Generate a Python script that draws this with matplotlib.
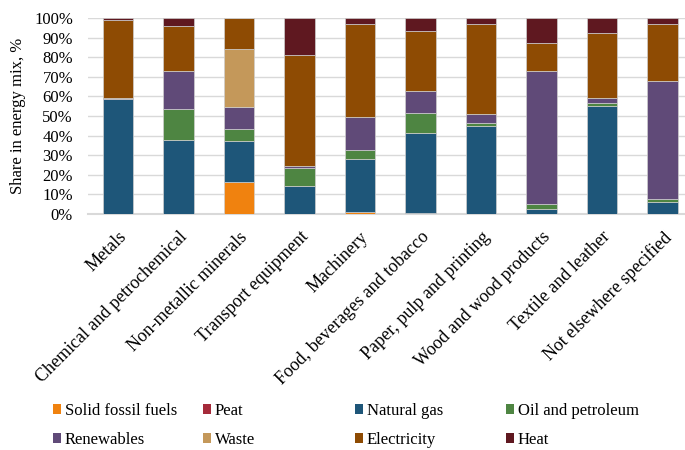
import matplotlib
matplotlib.use("Agg")
import matplotlib.pyplot as plt
from matplotlib.patches import Patch
from matplotlib.font_manager import FontProperties
from matplotlib.ticker import FuncFormatter, MultipleLocator
import numpy as np

SERIF = "Liberation Serif"
plt.rcParams["font.family"] = [SERIF, "DejaVu Serif"]

categories = [
    "Metals",
    "Chemical and petrochemical",
    "Non-metallic minerals",
    "Transport equipment",
    "Machinery",
    "Food, beverages and tobacco",
    "Paper, pulp and printing",
    "Wood and wood products",
    "Textile and leather",
    "Not elsewhere specified",
]

solid_fossil = [0, 0, 16.5, 0, 0.9, 0.5, 0, 0, 0, 0]
peat = [0, 0, 0, 0, 0, 0, 0, 0, 0, 0]
natural_gas = [58.6, 37.6, 20.6, 14.5, 27.4, 40.6, 44.8, 2.6, 55.0, 6.1]
oil_petroleum = [0, 16.2, 6.3, 9.2, 4.4, 10.2, 1.5, 2.3, 1.7, 1.4]
renewables = [0.4, 19.3, 11.3, 0.8, 16.7, 11.4, 4.5, 68.2, 2.4, 60.3]
waste = [0, 0, 29.5, 0, 0, 0, 0, 0, 0, 0]
electricity = [39.8, 22.6, 15.8, 56.6, 47.5, 30.7, 46.1, 14.3, 33.2, 29.1]
heat = [1.2, 4.3, 0, 18.9, 3.1, 6.6, 3.1, 12.6, 7.7, 3.1]

series = [
    ("Solid fossil fuels", solid_fossil, "#F0820F"),
    ("Peat", peat, "#A52A3A"),
    ("Natural gas", natural_gas, "#1E5679"),
    ("Oil and petroleum", oil_petroleum, "#4E8542"),
    ("Renewables", renewables, "#604A78"),
    ("Waste", waste, "#C4985A"),
    ("Electricity", electricity, "#8E4B03"),
    ("Heat", heat, "#5F1820"),
]

font = FontProperties(family=SERIF, size=12)
xfont = FontProperties(family=SERIF, size=13)

fig = plt.figure(figsize=(6.85, 4.5), dpi=100)
ax = fig.add_axes([87.75 / 685, 1 - 214 / 450, 605 / 685, 196 / 450])

x = np.arange(len(categories))
bottom = np.zeros(len(categories))
for name, vals, color in series:
    v = np.array(vals, dtype=float)
    ax.bar(x, v, bottom=bottom, width=0.5, color=color,
           edgecolor="#cfcfcf", linewidth=0.5, zorder=3)
    bottom += v

ax.set_xlim(-0.5, len(categories) - 0.5)
ax.set_ylim(0, 100)
ax.yaxis.set_major_locator(MultipleLocator(10))
ax.yaxis.set_major_formatter(FuncFormatter(lambda v, p: f"{v:.0f}%"))
ax.grid(axis="y", color="#D9D9D9", linewidth=1.0, zorder=0)
ax.set_axisbelow(True)
for s in ("top", "right", "left"):
    ax.spines[s].set_visible(False)
ax.spines["bottom"].set_color("#D9D9D9")
ax.spines["bottom"].set_linewidth(1.5)
ax.tick_params(axis="both", length=0, colors="black")
ax.tick_params(axis="y", pad=10.6)
ax.tick_params(axis="x", pad=10.4)
ax.set_xticks(x)
ax.set_xticklabels(categories, rotation=45, ha="right",
                   rotation_mode="anchor", fontproperties=xfont)
for lbl in ax.get_yticklabels():
    lbl.set_fontproperties(font)
ax.set_ylabel("Share in energy mix, %", fontproperties=font, labelpad=5.8)

# legend laid out as four columns of two entries
columns = [[0, 4], [1, 5], [2, 6], [3, 7]]
col_x = [53, 203, 355, 506]
for cx, idx in zip(col_x, columns):
    handles = [Patch(facecolor=series[i][2], edgecolor="none") for i in idx]
    labels = [series[i][0] for i in idx]
    fig.legend(handles, labels, loc="upper left",
               bbox_to_anchor=(cx / 685, 1 - 403 / 450),
               frameon=False, prop=font, handlelength=0.5,
               handleheight=0.5, handletextpad=0.22, labelspacing=0.76,
               borderaxespad=0, borderpad=0)

fig.savefig("out.png", dpi=100)
